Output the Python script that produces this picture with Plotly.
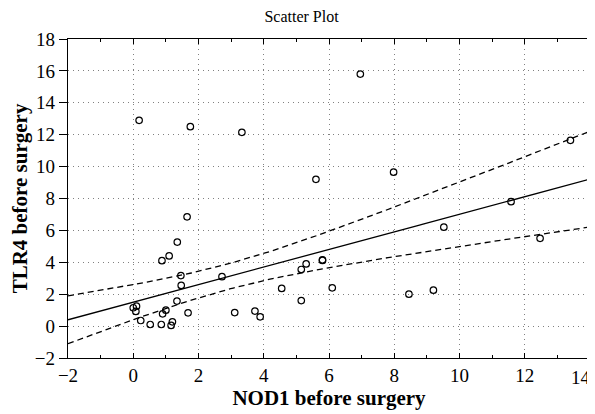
import numpy as np
import plotly.graph_objects as go

# NOD1 before surgery (x) and TLR4 before surgery (y)
nod1 = [0.18, 1.75, 3.33, 5.60, 1.65, 6.96, 7.98, 13.40, 11.58, 9.52, 12.47,
        5.80, 5.80, 5.30, 5.15, 5.15, 6.10, 8.45, 9.20, 1.35, 1.10, 0.88,
        1.46, 1.47, 2.72, 4.55, 1.34, 0.00, 0.10, 0.08, 1.00, 0.90, 1.68,
        0.23, 0.52, 0.86, 1.20, 1.16, 3.11, 3.73, 3.89]
tlr4 = [12.90, 12.50, 12.15, 9.20, 6.85, 15.80, 9.65, 11.65, 7.80, 6.20, 5.50,
        4.15, 4.12, 3.90, 3.55, 1.60, 2.40, 2.00, 2.25, 5.27, 4.40, 4.10,
        3.17, 2.55, 3.10, 2.36, 1.57, 1.15, 1.25, 0.92, 1.00, 0.77, 0.83,
        0.35, 0.10, 0.10, 0.27, 0.04, 0.85, 0.94, 0.58]

x_ticks = [-2, 0, 2, 4, 6, 8, 10, 12, 14]
x_tick_labels = ["\u22122", "0", "2", "4", "6", "8", "10", "12", "14"]
y_ticks = [-2, 0, 2, 4, 6, 8, 10, 12, 14, 16, 18]

# Regression line and its confidence band
fit_intercept = 1.50
fit_slope = 0.551
band_min_half = 0.80     # narrowest half-width of the band
band_center_x = 2.88     # x where the band is narrowest
band_curvature = 0.0677  # growth of squared half-width with (x - center)^2

xs = np.linspace(x_ticks[0], x_ticks[-1], 200)
fit = fit_intercept + fit_slope * xs
half = np.sqrt(band_min_half ** 2 + band_curvature * (xs - band_center_x) ** 2)

fig = go.Figure()
fig.add_trace(go.Scatter(x=xs, y=fit, mode="lines",
                         line=dict(color="black", width=1.3), showlegend=False))
fig.add_trace(go.Scatter(x=xs, y=fit + half, mode="lines",
                         line=dict(color="black", width=1.3, dash="6px,4px"), showlegend=False))
fig.add_trace(go.Scatter(x=xs, y=fit - half, mode="lines",
                         line=dict(color="black", width=1.3, dash="6px,4px"), showlegend=False))
fig.add_trace(go.Scatter(x=nod1, y=tlr4, mode="markers",
                         marker=dict(symbol="circle-open", size=6.5, color="black",
                                     line=dict(width=1.2, color="black")),
                         showlegend=False))

ff = "Liberation Serif, Times New Roman, serif"
fig.update_layout(
    width=587, height=406,
    margin=dict(l=60, r=5, t=31, b=56, autoexpand=False),
    paper_bgcolor="white", plot_bgcolor="white",
    font=dict(family=ff, color="black", size=19),
    title=dict(text="Scatter Plot", x=0.5, xanchor="center", xref="container",
               y=0.98, yanchor="middle", yref="container",
               font=dict(family=ff, size=16, color="black")),
)
# the last x label is right-aligned to its tick so it stays inside the page
fig.add_annotation(x=x_ticks[-1], xref="x", y=0, yref="paper",
                   text=x_tick_labels[-1], showarrow=False,
                   xanchor="right", yanchor="top", xshift=3, yshift=-7,
                   font=dict(family=ff, size=19, color="black"))
fig.update_xaxes(
    range=[x_ticks[0], x_ticks[-1]], tickvals=x_ticks,
    ticktext=x_tick_labels[:-1] + [""],
    showline=True, linecolor="black", linewidth=1.3, mirror="ticks",
    ticks="inside", ticklen=5, tickcolor="black", tickwidth=1,
    minor=dict(dtick=1, ticks="inside", ticklen=3, tickcolor="black", showgrid=False),
    showgrid=True, gridcolor="#808080", griddash="1px,4px", gridwidth=1,
    zeroline=False, automargin=False,
    title=dict(text="<b>NOD1 before surgery</b>", font=dict(family=ff, size=21, color="black"), standoff=4),
    tickfont=dict(family=ff, size=19, color="black"),
)
fig.update_yaxes(
    range=[y_ticks[0], y_ticks[-1]], tickvals=y_ticks,
    showline=True, linecolor="black", linewidth=1.3, mirror=True,
    ticks="outside", ticklen=8, tickcolor="black", tickwidth=1,
    showgrid=True, gridcolor="#808080", griddash="1px,4px", gridwidth=1,
    zeroline=False, ticklabeloverflow="allow", automargin=False,
    title=dict(text="<b>TLR4 before surgery</b>", font=dict(family=ff, size=21, color="black"), standoff=4),
    tickfont=dict(family=ff, size=19, color="black"),
)

fig.write_html("out.html")
